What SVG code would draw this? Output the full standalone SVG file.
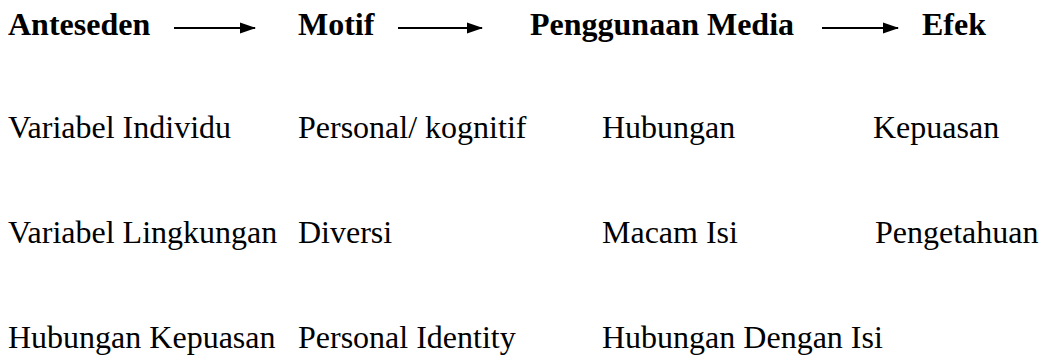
<svg xmlns="http://www.w3.org/2000/svg" width="1043" height="360" viewBox="0 0 1043 360">
<style>
text{font-family:"Liberation Serif","Times New Roman",serif;font-size:32px;fill:#000}
.h{font-weight:bold;font-size:32px}
.c{stroke:#000;stroke-width:2;fill:none}
</style>
<defs>
<marker id="ah" markerWidth="16" markerHeight="12" refX="15" refY="6" orient="auto" markerUnits="userSpaceOnUse">
<path d="M0,0.5 L16,6 L0,11.5 Z" fill="#000"/>
</marker>
</defs>
<rect width="1043" height="360" fill="#fff"/>
<g id="connectors">
<line class="c" x1="174" y1="28" x2="255" y2="28" marker-end="url(#ah)"/>
<line class="c" x1="398" y1="28" x2="482" y2="28" marker-end="url(#ah)"/>
<line class="c" x1="822" y1="28" x2="898" y2="28" marker-end="url(#ah)"/>
</g>
<g id="anteseden"><text class="h" x="8" y="35">Anteseden</text></g>
<g id="motif"><text class="h" x="298" y="35">Motif</text></g>
<g id="penggunaan"><text class="h" x="530" y="35">Penggunaan Media</text></g>
<g id="efek"><text class="h" x="922" y="35">Efek</text></g>
<g id="col1">
<text x="8" y="138">Variabel Individu</text>
<text x="8" y="243">Variabel Lingkungan</text>
<text x="8" y="348">Hubungan Kepuasan</text>
</g>
<g id="col2">
<text x="298" y="138">Personal/ kognitif</text>
<text x="298" y="243">Diversi</text>
<text x="298" y="348">Personal Identity</text>
</g>
<g id="col3">
<text x="602" y="138">Hubungan</text>
<text x="602" y="243">Macam Isi</text>
<text x="602" y="348">Hubungan Dengan Isi</text>
</g>
<g id="col4">
<text x="873" y="138">Kepuasan</text>
<text x="875" y="243">Pengetahuan</text>
</g>
</svg>
